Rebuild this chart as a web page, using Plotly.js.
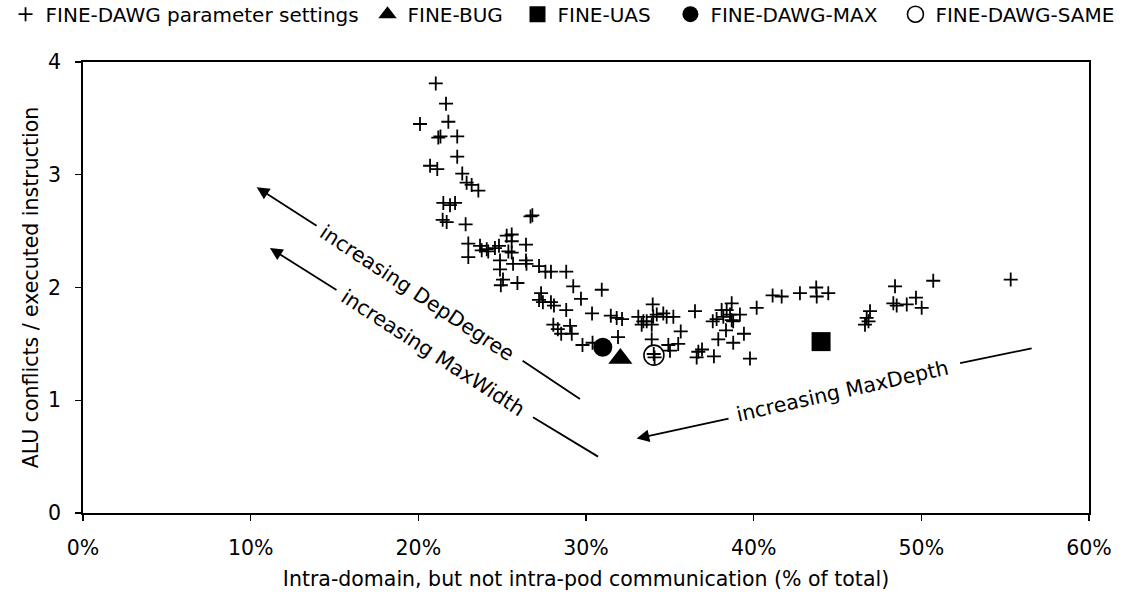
<!DOCTYPE html>
<html>
<head>
<meta charset="utf-8">
<script src="https://cdn.plot.ly/plotly-3.0.1.min.js"></script>
<style>
  html, body { margin: 0; padding: 0; background: #fff; }
  #chart { width: 1125px; height: 592px; }
</style>
</head>
<body>
<div id="chart"></div>
<script>
// FINE-DAWG parameter sweep: share of intra-domain (not intra-pod) traffic vs ALU conflicts
const settingsX = [21.04,21.65,20.10,21.79,21.19,21.32,22.32,22.32,20.70,21.13,
  22.62,22.88,23.18,23.58,21.49,21.89,22.19,21.45,21.69,22.82,
  26.80,26.69,25.27,25.57,22.98,22.98,23.68,23.78,24.08,24.17,
  24.57,24.81,25.37,25.57,25.57,26.42,24.87,24.87,25.65,26.42,
  26.45,27.20,27.58,27.91,28.82,25.05,24.92,25.91,29.24,30.94,
  29.70,27.32,27.20,27.43,27.91,28.09,28.82,30.36,31.48,31.83,
  32.15,28.05,28.32,28.52,29.05,29.15,29.79,30.39,31.91,
  33.12,33.42,33.32,33.62,33.92,34.01,34.22,34.61,34.81,35.21,
  33.98,36.50,35.65,33.92,34.91,35.01,35.50,34.04,34.09,36.60,
  36.70,36.92,37.63,37.56,37.79,38.09,38.19,38.39,38.69,38.59,
  38.69,38.78,39.18,38.35,37.89,38.78,39.42,39.78,40.18,41.13,
  41.67,42.76,43.73,43.76,44.45,46.94,46.74,46.64,46.85,48.43,
  48.33,48.53,49.13,49.68,50.02,50.71,55.33];
const settingsY = [3.81,3.63,3.45,3.47,3.33,3.34,3.34,3.16,3.08,3.05,
  3.01,2.93,2.91,2.86,2.75,2.73,2.75,2.60,2.58,2.56,
  2.64,2.63,2.46,2.47,2.39,2.27,2.37,2.33,2.34,2.32,
  2.35,2.37,2.32,2.31,2.41,2.38,2.24,2.16,2.21,2.24,
  2.21,2.19,2.14,2.14,2.14,2.07,2.02,2.04,2.01,1.98,
  1.90,1.95,1.89,1.87,1.87,1.84,1.80,1.77,1.75,1.73,
  1.72,1.67,1.63,1.59,1.66,1.59,1.49,1.51,1.56,
  1.74,1.70,1.67,1.70,1.67,1.74,1.76,1.77,1.74,1.74,
  1.85,1.79,1.61,1.54,1.49,1.44,1.50,1.41,1.38,1.38,
  1.43,1.45,1.39,1.70,1.72,1.80,1.74,1.80,1.86,1.76,
  1.71,1.70,1.76,1.62,1.54,1.51,1.59,1.37,1.82,1.93,
  1.92,1.95,2.00,1.92,1.95,1.79,1.73,1.67,1.70,2.01,
  1.86,1.84,1.85,1.91,1.82,2.06,2.07];

// Reference configurations
const bugX = [32.05],  bugY = [1.37];
const uasX = [44.02],  uasY = [1.52];
const maxX = [31.00],  maxY = [1.47];
const sameX = [34.05], sameY = [1.40];

const seriesNames = ['FINE-DAWG parameter settings', 'FINE-BUG', 'FINE-UAS',
                     'FINE-DAWG-MAX', 'FINE-DAWG-SAME'];
const xTickVals = [0, 10, 20, 30, 40, 50, 60];
const xTickText = ['0%', '10%', '20%', '30%', '40%', '50%', '60%'];
const yTickVals = [0, 1, 2, 3, 4];
const yTickText = ['0', '1', '2', '3', '4'];

const FONT = 'DejaVu Sans, Verdana, sans-serif';
const FS = 20.5;
const LEGEND_FS = 20;
const INK = '#000';

const traces = [
  { x: settingsX, y: settingsY, name: seriesNames[0], legend: 'legend',
    type: 'scatter', mode: 'markers',
    marker: { symbol: 'cross-thin-open', size: 10, color: INK, line: { color: INK, width: 1.8 } } },
  { x: bugX, y: bugY, name: seriesNames[1], legend: 'legend2',
    type: 'scatter', mode: 'markers',
    marker: { symbol: 'triangle-up', size: 21, color: INK } },
  { x: uasX, y: uasY, name: seriesNames[2], legend: 'legend3',
    type: 'scatter', mode: 'markers',
    marker: { symbol: 'square', size: 19, color: INK } },
  { x: maxX, y: maxY, name: seriesNames[3], legend: 'legend4',
    type: 'scatter', mode: 'markers',
    marker: { symbol: 'circle', size: 19, color: INK } },
  { x: sameX, y: sameY, name: seriesNames[4], legend: 'legend5',
    type: 'scatter', mode: 'markers',
    marker: { symbol: 'circle-open', size: 20, color: INK, line: { color: INK, width: 1.6 } } }
];

function legendAt(x) {
  return { x: x, y: 1.106, xanchor: 'left', yanchor: 'middle', orientation: 'h',
           bgcolor: 'rgba(0,0,0,0)', borderwidth: 0,
           font: { family: FONT, size: LEGEND_FS, color: INK } };
}

const arrowStyle = { showarrow: true, arrowhead: 2, arrowsize: 1.4, arrowwidth: 1.8,
                     arrowcolor: INK, text: '', xref: 'x', yref: 'y', axref: 'x', ayref: 'y' };
const labelStyle = { showarrow: false, xref: 'x', yref: 'y',
                     font: { family: FONT, size: FS, color: INK } };

const layout = {
  width: 1125, height: 592,
  margin: { l: 83, r: 36, t: 62, b: 79, autoexpand: false },
  paper_bgcolor: '#fff', plot_bgcolor: '#fff',
  font: { family: FONT, size: FS, color: INK },
  showlegend: true,
  legend: legendAt(-0.077),
  legend2: legendAt(0.2828),
  legend3: legendAt(0.4319),
  legend4: legendAt(0.5839),
  legend5: legendAt(0.8076),
  xaxis: {
    range: [0, 60], tickmode: 'array', tickvals: xTickVals, ticktext: xTickText,
    showgrid: false, zeroline: false,
    showline: true, linecolor: INK, linewidth: 1.8, mirror: true,
    ticks: 'outside', ticklen: 6, tickwidth: 1.3, tickcolor: INK,
    ticklabelstandoff: 10,
    tickfont: { family: FONT, size: FS, color: INK },
    title: { text: 'Intra-domain, but not intra-pod communication (% of total)',
             font: { family: FONT, size: FS, color: INK }, standoff: 12 }
  },
  yaxis: {
    range: [0, 4], tickmode: 'array', tickvals: yTickVals, ticktext: yTickText,
    showgrid: false, zeroline: false,
    showline: true, linecolor: INK, linewidth: 1.8, mirror: true,
    ticks: 'outside', ticklen: 6, tickwidth: 1.3, tickcolor: INK,
    ticklabelstandoff: 10,
    tickfont: { family: FONT, size: FS, color: INK },
    title: { text: 'ALU conflicts / executed instruction',
             font: { family: FONT, size: FS, color: INK }, standoff: 4 }
  },
  annotations: [
    // increasing DepDegree
    Object.assign({}, arrowStyle, { x: 10.36, y: 2.89, ax: 14.02, ay: 2.54 }),
    Object.assign({}, labelStyle, { x: 19.92, y: 1.95, text: 'increasing DepDegree', textangle: 33.5 }),
    // increasing MaxWidth
    Object.assign({}, arrowStyle, { x: 11.15, y: 2.35, ax: 15.21, ay: 1.97 }),
    Object.assign({}, labelStyle, { x: 20.89, y: 1.42, text: 'increasing MaxWidth', textangle: 33 }),
    // increasing MaxDepth
    Object.assign({}, arrowStyle, { x: 33.02, y: 0.66, ax: 38.59, ay: 0.84 }),
    Object.assign({}, labelStyle, { x: 45.30, y: 1.08, text: 'increasing MaxDepth', textangle: -12.7 })
  ],
  shapes: [
    { type: 'line', xref: 'x', yref: 'y', x0: 26.22, y0: 1.35, x1: 29.64, y1: 1.01,
      line: { color: INK, width: 1.8 } },
    { type: 'line', xref: 'x', yref: 'y', x0: 26.84, y0: 0.85, x1: 30.72, y1: 0.50,
      line: { color: INK, width: 1.8 } },
    { type: 'line', xref: 'x', yref: 'y', x0: 52.31, y0: 1.33, x1: 56.58, y1: 1.46,
      line: { color: INK, width: 1.8 } }
  ]
};

Plotly.newPlot('chart', traces, layout, { displayModeBar: false, staticPlot: true });
</script>
</body>
</html>
